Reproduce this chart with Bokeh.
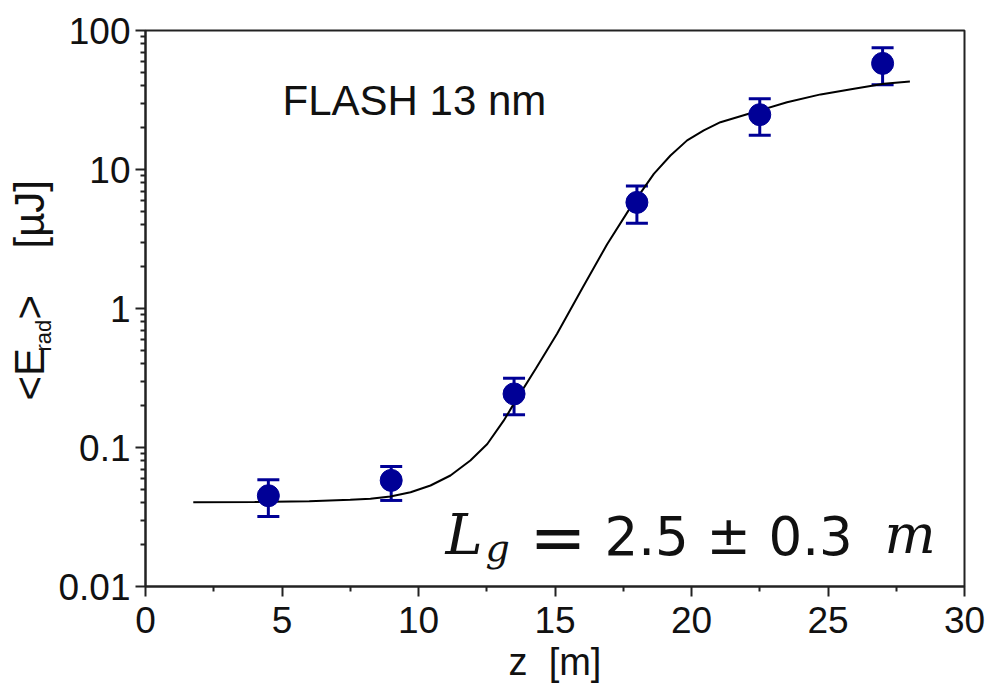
import math
from bokeh.plotting import figure
from bokeh.layouts import row
from bokeh.models import (Range1d, FixedTicker, CustomJSTickFormatter, Label,
                          Whisker, TeeHead, ColumnDataSource)
from bokeh.embed import file_html
from bokeh.resources import INLINE

# ---- data ----
z_data = [4.5, 9.0, 13.5, 18.0, 22.5, 27.0]
E_data = [0.045, 0.058, 0.243, 5.8, 24.8, 58.0]
E_upper = [0.0586, 0.073, 0.315, 7.6, 32.3, 75.0]
E_lower = [0.0319, 0.0416, 0.172, 4.1, 17.6, 40.7]

z_fit = [1.75, 4.0, 6.0, 7.5, 8.24, 8.97, 9.71, 10.44, 11.17, 11.9, 12.52,
         13.12, 13.49, 14.3, 15.08, 16.0, 16.91, 17.77, 18.62, 19.23, 19.84,
         20.45, 21.06, 22.28, 23.5, 24.73, 25.9, 27.05, 28.0]
E_fit = [0.0404, 0.0405, 0.041, 0.042, 0.0428, 0.0444, 0.0477, 0.0533, 0.0629,
         0.0806, 0.106, 0.156, 0.206, 0.37, 0.66, 1.4, 2.9, 5.36, 9.31, 12.6,
         16.2, 19.1, 21.9, 25.8, 30.5, 34.7, 38.0, 41.4, 43.0]

x_ticks = [0, 5, 10, 15, 20, 25, 30]
x_minor = [2.5, 7.5, 12.5, 17.5, 22.5, 27.5]
y_ticks = [0.01, 0.1, 1, 10, 100]
y_minor_mantissa = [2, 3, 4, 5, 6, 7, 8, 9]

title_text = "FLASH 13 nm"
x_label = "z \u00a0[m]"

NAVY = "#000096"
FONT = "Liberation Sans"
TXT = "#111111"
MID = 0.346      # baseline offset of a "middle"-anchored single line, in em

H = 695
LW = 55          # strip holding the rotated y-axis label
W = 990 - LW
FR_L, FR_R, FR_T, FR_B = 145, 964, 30, 586   # frame edges on the page

# ---- main plot ----
p = figure(width=W, height=H, output_backend="svg", toolbar_location=None,
           y_axis_type="log", x_range=Range1d(0, 30), y_range=Range1d(0.01, 100),
           min_border_left=FR_L - LW, min_border_right=990 - FR_R,
           min_border_top=FR_T, min_border_bottom=H - FR_B)
p.background_fill_color = "white"
p.border_fill_color = "white"
p.outline_line_color = "#222222"
p.outline_line_width = 2
p.xgrid.visible = False
p.ygrid.visible = False

y_minor = [m * d for d in y_ticks[:-1] for m in y_minor_mantissa]
p.xaxis.ticker = FixedTicker(ticks=x_ticks, minor_ticks=x_minor)
p.yaxis.ticker = FixedTicker(ticks=y_ticks, minor_ticks=y_minor)
p.yaxis.formatter = CustomJSTickFormatter(code="return tick.toString();")
p.xaxis.formatter = CustomJSTickFormatter(code="return tick.toString();")

for ax in (p.xaxis[0], p.yaxis[0]):
    ax.axis_line_width = 2
    ax.axis_line_color = "#222222"
    ax.major_tick_line_width = 2
    ax.minor_tick_line_width = 2
    ax.major_tick_line_color = "#222222"
    ax.minor_tick_line_color = "#222222"
    ax.major_tick_out = 10
    ax.major_tick_in = 0
    ax.minor_tick_out = 5
    ax.minor_tick_in = 0
    ax.major_label_text_font = FONT
    ax.major_label_text_font_size = "37px"
    ax.major_label_text_color = TXT
p.xaxis.major_label_standoff = 10
p.yaxis.major_label_standoff = 5

p.xaxis.axis_label = x_label
p.xaxis.axis_label_text_font = FONT
p.xaxis.axis_label_text_font_size = "38px"
p.xaxis.axis_label_text_font_style = "normal"
p.xaxis.axis_label_text_color = TXT
p.xaxis.axis_label_standoff = 5

# fit curve
p.line(z_fit, E_fit, line_color="black", line_width=2)

# error bars and points
src = ColumnDataSource(dict(z=z_data, E=E_data, hi=E_upper, lo=E_lower))
wh = Whisker(base="z", upper="hi", lower="lo", source=src,
             line_color=NAVY, line_width=3,
             upper_head=TeeHead(size=22, line_color=NAVY, line_width=3),
             lower_head=TeeHead(size=22, line_color=NAVY, line_width=3))
p.add_layout(wh)
p.scatter("z", "E", source=src, size=22, fill_color=NAVY, line_color=NAVY)


def in_frame(text, page_x, base_y, size, font=FONT, style="normal"):
    """Horizontal text whose baseline sits at page y = base_y."""
    y_up = (FR_B - base_y) + MID * size
    p.add_layout(Label(x=page_x - FR_L, y=y_up, x_units="screen",
                       y_units="screen", text=text, text_font=font,
                       text_font_size=f"{size}px", text_font_style=style,
                       text_align="left", text_baseline="middle",
                       text_color=TXT))


in_frame(title_text, 282, 115, 42)
in_frame("L", 445, 553, 56, font="DejaVu Serif", style="italic")
in_frame("g", 485, 561, 38, font="DejaVu Serif", style="italic")
in_frame("=", 529, 561, 68, font="DejaVu Sans")
in_frame("2.5", 604, 553, 53, font="DejaVu Sans")
in_frame("±", 706, 553, 53, font="DejaVu Sans")
in_frame("0.3", 768, 553, 53, font="DejaVu Sans")
in_frame("m", 884, 553, 54, font="DejaVu Serif", style="italic")

# ---- strip with the rotated y-axis label (data units = page pixels) ----
q = figure(width=LW, height=H, output_backend="svg", toolbar_location=None,
           x_range=Range1d(0, LW), y_range=Range1d(FR_B, FR_T),
           x_axis_location=None, y_axis_location=None,
           min_border_left=0, min_border_right=0,
           min_border_top=FR_T, min_border_bottom=H - FR_B)
q.outline_line_color = None
q.xgrid.visible = False
q.ygrid.visible = False
q.background_fill_color = "white"
q.border_fill_color = "white"

r = math.pi / 2


def rotated(text, base_x, start_y, size):
    q.add_layout(Label(x=base_x - MID * size, y=start_y, text=text,
                       text_font=FONT, text_font_size=f"{size}px",
                       angle=r, text_align="left", text_baseline="middle",
                       text_color=TXT))


rotated("<E", 44, 400, 42)
rotated("rad", 50.5, 351, 22)
rotated(">", 44, 319, 42)
rotated("[µJ]", 44, 248, 42)

layout = row(q, p, spacing=0)
open("out.html", "w").write(file_html(layout, INLINE))
